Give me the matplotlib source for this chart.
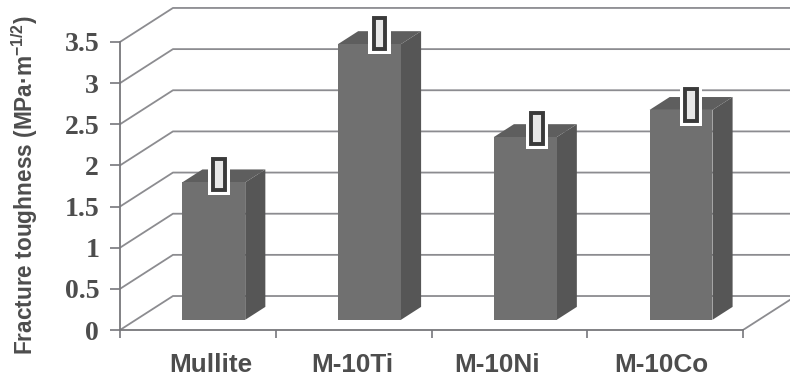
import matplotlib
matplotlib.use("Agg")
import matplotlib.pyplot as plt
from matplotlib.patches import Polygon, Rectangle

plt.rcParams["mathtext.fontset"] = "custom"
plt.rcParams["mathtext.bf"] = "Liberation Sans:bold"
plt.rcParams["mathtext.rm"] = "Liberation Sans:bold"

categories = ["Mullite", "M-10Ti", "M-10Ni", "M-10Co"]
toughness = [1.67, 3.35, 2.22, 2.55]
err_centers = [1.69, 3.40, 2.25, 2.53]
errors = [0.22, 0.22, 0.22, 0.22]
y_ticks = [0, 0.5, 1, 1.5, 2, 2.5, 3, 3.5]
y_labels = ["0", "0.5", "1", "1.5", "2", "2.5", "3", "3.5"]

# labels and error boxes in the picture are not quite centred
label_shift = [9, -1, -9, -3]
box_shift = [-0.03, 0, 0.01, 0]

GRID = "#8c8c90"
AXIS = "#77777b"
TEXT = "#4d4d4d"

# oblique depth of the 3d box, in data units
DX = 0.34
DY = 0.413
bar_w = 0.404
d0, d1 = 0.3, 0.68
box_w = 0.105

fig = plt.figure(figsize=(7.9, 3.78), dpi=100)
ax = fig.add_axes([120 / 790, 48 / 378, 670 / 790, 330 / 378])
ax.set_xlim(-0.5, -0.5 + 670 / 155.75)
ax.set_ylim(0, 330 / 82.3)
ax.patch.set_visible(False)

# back wall and left wall grid
for v in y_ticks:
    ax.plot([-0.5, -0.5 + DX, 3.5 + DX], [v, v + DY, v + DY], color=GRID, lw=1.3, zorder=1)
ax.plot([3.5, 3.5 + DX], [0, DY], color=GRID, lw=1.3, zorder=1)


def pt(x, y, d):
    return (x + d * DX, y + d * DY)


for i, (val, center, err) in enumerate(zip(toughness, err_centers, errors)):
    l, r = i - bar_w / 2, i + bar_w / 2
    ax.add_patch(Polygon([pt(r, 0, d0), pt(r, 0, d1), pt(r, val, d1), pt(r, val, d0)],
                         facecolor="#565656", edgecolor="none", zorder=3))
    ax.add_patch(Polygon([pt(l, val, d0), pt(l, val, d1), pt(r, val, d1), pt(r, val, d0)],
                         facecolor="#5e5e5e", edgecolor="none", zorder=3))
    ax.add_patch(Polygon([pt(l, 0, d0), pt(r, 0, d0), pt(r, val, d0), pt(l, val, d0)],
                         facecolor="#707070", edgecolor="none", zorder=4))

    # error bar drawn as a hollow box at mid depth
    cx, cy = pt(i + box_shift[i], center, (d0 + d1) / 2)
    ax.add_patch(Rectangle((cx - box_w / 2 - 0.02, cy - err - 0.03), box_w + 0.04, 2 * err + 0.06,
                           facecolor="white", edgecolor="none", zorder=5))
    ax.add_patch(Rectangle((cx - box_w / 2 + 0.015, cy - err + 0.03), box_w - 0.03, 2 * err - 0.06,
                           facecolor="#e8e8e8", edgecolor="#3a3a3a", lw=2.8, zorder=6))

for s in ["top", "right"]:
    ax.spines[s].set_visible(False)
ax.spines["left"].set_bounds(0, 3.5)
ax.spines["bottom"].set_bounds(-0.5, 3.5)
ax.spines["left"].set_color(AXIS)
ax.spines["bottom"].set_color(AXIS)
ax.spines["left"].set_linewidth(1.3)
ax.spines["bottom"].set_linewidth(1.3)

ax.set_yticks(y_ticks)
ax.set_yticklabels(y_labels, family="Liberation Serif", fontweight="bold", fontsize=20, color=TEXT)
ax.tick_params(axis="y", length=7, width=1.2, color=AXIS, pad=8)

ax.set_xticks([-0.5, 0.5, 1.5, 2.5, 3.5])
ax.set_xticklabels([])
ax.tick_params(axis="x", length=6, width=1.2, color=AXIS)

for i, name in enumerate(categories):
    ax.annotate(name, (i, 0), xytext=(label_shift[i], -25), textcoords="offset points",
                ha="center", va="center", family="Liberation Sans", fontweight="bold",
                fontsize=18.8, color=TEXT, annotation_clip=False)

fig.text(25 / 790, 1 - 185 / 378, "Fracture toughness (MPa\u00b7m$^{-1/2}$)", rotation=90,
         ha="center", va="center", family="Liberation Sans", fontweight="bold", fontsize=16.3, color=TEXT)

fig.savefig("out.png", dpi=100)
